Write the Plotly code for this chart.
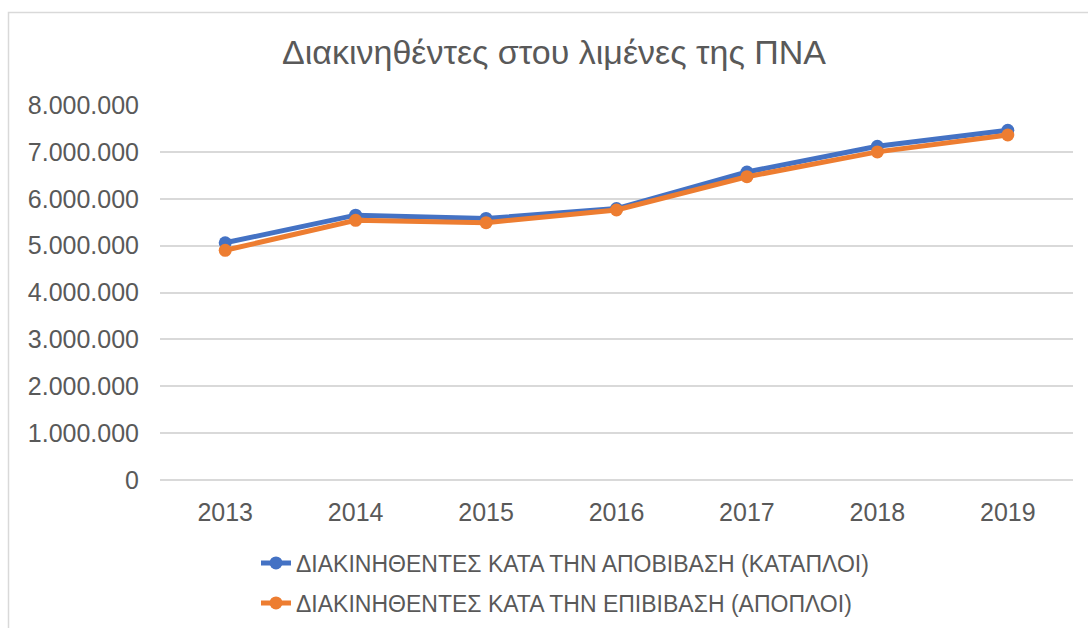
import plotly.graph_objects as go

years = ["2013", "2014", "2015", "2016", "2017", "2018", "2019"]
arrivals = [5060000, 5650000, 5580000, 5790000, 6570000, 7120000, 7460000]
departures = [4900000, 5540000, 5490000, 5760000, 6470000, 7000000, 7360000]
name_arr = "ΔΙΑΚΙΝΗΘΕΝΤΕΣ ΚΑΤΑ ΤΗΝ ΑΠΟΒΙΒΑΣΗ (ΚΑΤΑΠΛΟΙ)"
name_dep = "ΔΙΑΚΙΝΗΘΕΝΤΕΣ ΚΑΤΑ ΤΗΝ ΕΠΙΒΙΒΑΣΗ (ΑΠΟΠΛΟΙ)"
title = "Διακινηθέντες στου λιμένες της ΠΝΑ"
yticks = [0, 1000000, 2000000, 3000000, 4000000, 5000000, 6000000, 7000000, 8000000]

BLUE = "#4472C4"
ORANGE = "#ED7D31"
TXT = "#595959"
GRID = "#D9D9D9"
FONT = "Liberation Sans, Arial, sans-serif"

fig = go.Figure()
fig.add_trace(go.Scatter(x=years, y=arrivals, name=name_arr, mode="lines+markers",
                         line=dict(color=BLUE, width=5), marker=dict(color=BLUE, size=13),
                         legend="legend", showlegend=True))
fig.add_trace(go.Scatter(x=years, y=departures, name=name_dep, mode="lines+markers",
                         line=dict(color=ORANGE, width=5), marker=dict(color=ORANGE, size=13),
                         legend="legend2", showlegend=True))

W, H = 1088, 628
L, T = 160, 105
R = W - 1073
B = H - 480
pw = W - L - R
ph = H - T - B

def px(x):
    return (x - L) / pw

def py(y):
    return (H - B - y) / ph

fig.add_shape(type="rect", xref="paper", yref="paper",
              x0=px(8.5), x1=px(1200), y0=py(12.5), y1=py(700),
              line=dict(color=GRID, width=1.5), fillcolor="rgba(0,0,0,0)", layer="below")

fig.update_layout(
    width=W, height=H,
    margin=dict(l=L, r=R, t=T, b=B, autoexpand=False),
    paper_bgcolor="white", plot_bgcolor="white",
    separators=",.",
    showlegend=True,
    font=dict(family=FONT, color=TXT, size=24),
    title=dict(text=title, x=554 / W, xanchor="center", y=1 - 52 / H, yanchor="middle",
               xref="container", yref="container",
               font=dict(family=FONT, size=34, color=TXT)),
    xaxis=dict(type="category", range=[-0.5, 6.5], showgrid=False, showline=False,
               ticks="", tickfont=dict(size=25, color=TXT), ticklabelstandoff=15),
    yaxis=dict(range=[0, 8000000], tickvals=yticks, tickformat=",d",
               showgrid=True, gridcolor=GRID, gridwidth=1.5,
               zeroline=True, zerolinecolor=GRID, zerolinewidth=1.5,
               showline=False, ticks="", tickfont=dict(size=25, color=TXT),
               ticklabelstandoff=20),
    legend=dict(x=px(256), y=py(563), xanchor="left", yanchor="middle", visible=True,
                font=dict(size=23, color=TXT), bgcolor="rgba(0,0,0,0)"),
    legend2=dict(x=px(256), y=py(603), xanchor="left", yanchor="middle", visible=True,
                 font=dict(size=23, color=TXT), bgcolor="rgba(0,0,0,0)"),
)

post = (
    "document.documentElement.style.overflow='hidden';"
    "document.body.style.margin='0';"
    "document.body.style.overflow='hidden';"
)

fig.write_html("out.html", config={"displayModeBar": False}, post_script=post)
